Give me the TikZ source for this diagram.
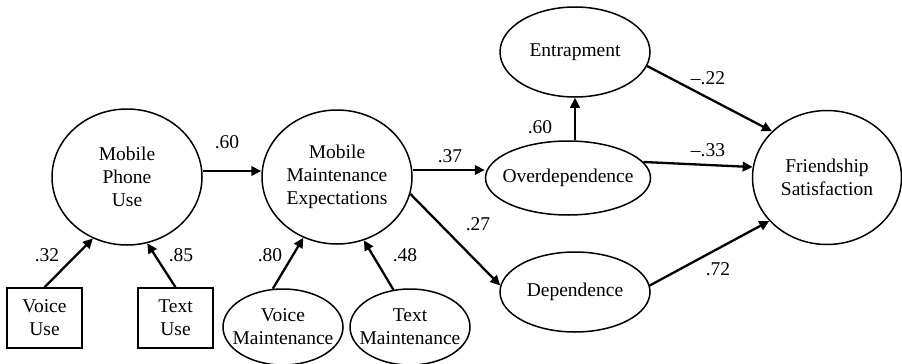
\documentclass[tikz,border=0pt]{standalone}
\usepackage{fontspec}
\setmainfont{Liberation Serif}
\usetikzlibrary{shapes.geometric,arrows.meta}
\begin{document}
\begin{tikzpicture}[x=1pt,y=-1pt,
  font=\fontsize{19.5}{23}\selectfont,
  lat/.style={draw, ellipse, line width=1.5pt, inner sep=0pt},
  txt/.style={align=center, inner sep=0pt},
  obs/.style={draw, rectangle, line width=1.5pt, inner sep=0pt, minimum width=75pt, minimum height=60pt, align=center},
  path/.style={line width=2.3pt, -{Triangle[length=10pt,width=9.5pt]}},
  coef/.style={inner sep=0pt}]
\useasboundingbox (0,0) rectangle (902,364);
\node[lat, minimum width=150pt, minimum height=136pt] (mpu) at (127,177) {};
\node[txt] (mput) at (mpu) {Mobile\\Phone\\Use};
\node[lat, minimum width=150pt, minimum height=134pt] (mme) at (337,177) {};
\node[txt] (mmet) at (mme) {Mobile\\Maintenance\\Expectations};
\node[obs] (vu) at (44.5,318) {Voice\\Use};
\node[obs] (tu) at (175.5,318) {Text\\Use};
\node[lat, minimum width=120pt, minimum height=76pt] (vm) at (283,327) {};
\node[txt] (vmt) at (vm) {Voice\\Maintenance};
\node[lat, minimum width=120pt, minimum height=76pt] (tm) at (410,327) {};
\node[txt] (tmt) at (tm) {Text\\Maintenance};
\node[lat, minimum width=150pt, minimum height=90pt] (ent) at (575,52) {};
\node[txt] (entt) at (ent) {Entrapment};
\node[lat, minimum width=165pt, minimum height=74pt] (od) at (568,178) {};
\node[txt] (odt) at (od) {Overdependence};
\node[lat, minimum width=150pt, minimum height=80pt] (dep) at (575,292) {};
\node[txt] (dept) at (dep) {Dependence};
\node[lat, minimum width=149pt, minimum height=134pt] (fs) at (827,177.5) {};
\node[txt] (fst) at (fs) {Friendship\\Satisfaction};

\draw[path] (vu.north) -- (mpu.241);
\draw[path] (tu.north) -- (mpu.287);
\draw[path] (vm.105) -- (mme.241);
\draw[path] (tm.114) -- (mme.293);
\draw[path] (mpu.east |- 0,171) -- (mme.west |- 0,171);
\draw[path] (mme.east |- 0,170) -- (od.west |- 0,170);
\draw[path] (mme.347) -- (dep.175);
\draw[path] (ent.south |- od.north) -- (ent.south);
\draw[path] (ent.-11) -- (fs.140);
\draw[path] (od.12) -- (fs.172);
\draw[path] (dep.5) -- (fs.217);

\node[coef] (c1) at (47,255) {.32};
\node[coef] (c2) at (181,255) {.85};
\node[coef] (c3) at (270,255) {.80};
\node[coef] (c4) at (405,255) {.48};
\node[coef] (c5) at (227,142) {.60};
\node[coef] (c6) at (450,156) {.37};
\node[coef] (c7) at (478,224) {.27};
\node[coef] (c8) at (540,127) {.60};
\node[coef] (c9) at (708,78) {--.22};
\node[coef] (c10) at (708,150) {--.33};
\node[coef] (c11) at (718,269) {.72};
\end{tikzpicture}
\end{document}
